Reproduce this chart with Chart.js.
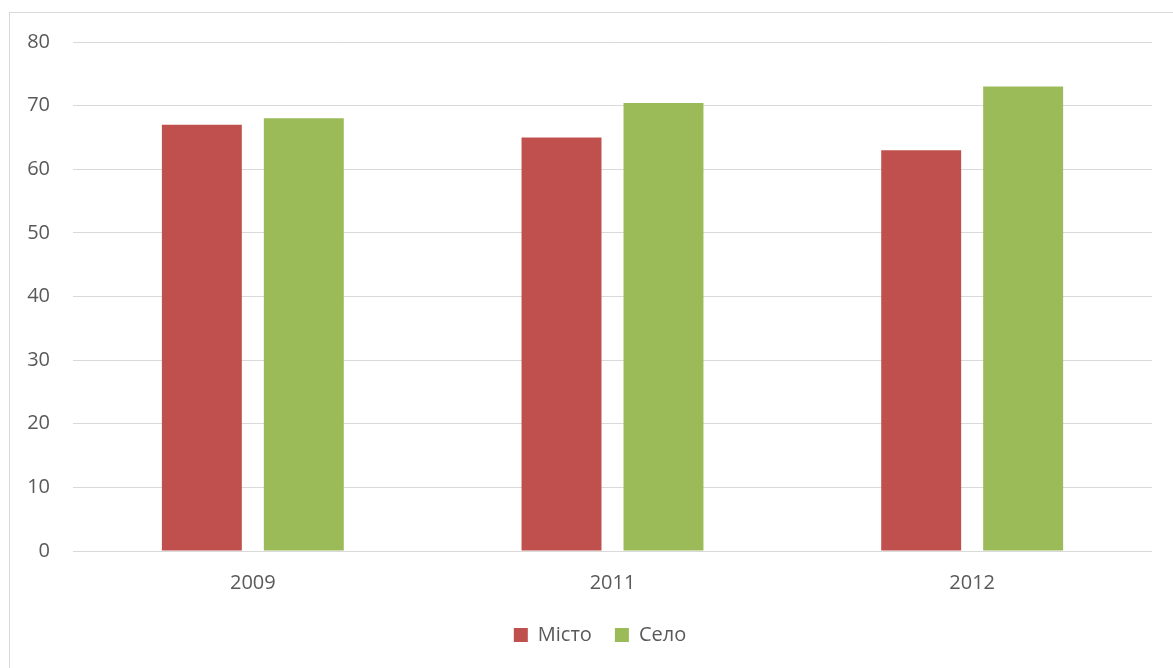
<!DOCTYPE html>
<html>
<head>
<meta charset="utf-8">
<script src="https://cdn.jsdelivr.net/npm/chart.js@4/dist/chart.umd.min.js"></script>
<style>
  html, body { margin: 0; padding: 0; background: #fff; }
  #wrap { position: relative; width: 1173px; height: 668px; overflow: hidden; }
  #frame { position: absolute; left: 9px; top: 12px; width: 1200px; height: 700px; border: 1px solid #d9d9d9; box-sizing: border-box; }
  #c { position: absolute; left: 0; top: 0; }
</style>
</head>
<body>
<div id="wrap">
  <div id="frame"></div>
  <canvas id="c" width="1173" height="668"></canvas>
</div>
<script>
const years = ['2009', '2011', '2012'];
const cityValues = [67, 65, 63];
const villageValues = [68, 70.4, 73];
const seriesNames = ['Місто', 'Село'];

const FONT = { family: '"Open Sans", sans-serif', size: 20 };
const TEXT = '#595959';
const GRID = '#d9d9d9';

// Nudge the legend row to the right of the canvas centre.
const legendShift = {
  id: 'legendShift',
  afterLayout(chart) {
    const lg = chart.legend;
    if (lg) { lg.left += 24; lg.right += 24; }
  }
};

new Chart(document.getElementById('c'), {
  type: 'bar',
  data: {
    labels: years,
    datasets: [
      { label: seriesNames[0], data: cityValues, backgroundColor: '#c0504d',
        categoryPercentage: 0.567, barPercentage: 0.784 },
      { label: seriesNames[1], data: villageValues, backgroundColor: '#9bbb59',
        categoryPercentage: 0.567, barPercentage: 0.784 }
    ]
  },
  plugins: [legendShift],
  options: {
    responsive: false,
    animation: false,
    devicePixelRatio: 1,
    layout: { padding: { left: 0, right: 21, top: 42, bottom: 13 } },
    plugins: {
      tooltip: { enabled: false },
      legend: {
        position: 'bottom',
        labels: {
          color: TEXT, font: FONT, boxWidth: 14, boxHeight: 14,
          padding: 23
        }
      }
    },
    scales: {
      x: {
        grid: { display: false },
        border: { display: false },
        ticks: { color: TEXT, font: FONT, padding: 12 },
        afterFit: s => { s.height = 51; }
      },
      y: {
        min: 0, max: 80,
        ticks: { stepSize: 10, color: TEXT, font: FONT, padding: 23 },
        grid: { color: GRID, lineWidth: 1, drawTicks: false },
        border: { display: false },
        afterFit: s => { s.width = 73; }
      }
    }
  }
});
</script>
</body>
</html>
